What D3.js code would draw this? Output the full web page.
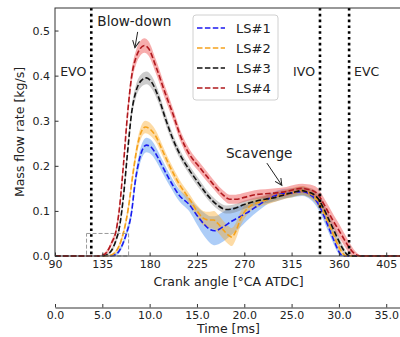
<!DOCTYPE html>
<html>
<head>
<meta charset="utf-8">
<script src="https://cdn.jsdelivr.net/npm/d3@7"></script>
<style>
  body { margin: 0; background: #fff; }
  svg { display: block; font-family: "DejaVu Sans", sans-serif; }
</style>
</head>
<body>
<svg id="chart"></svg>
<script>
// [crank angle, mass flow rate, band half-width]
const ls1 = [[90,0,0],[141,0,0],[145,0.001,0.002],[150,0.008,0.004],[155,0.03,0.006],[158,0.05,0.008],[163,0.1,0.011],[166,0.16,0.013],[170,0.212,0.015],[174,0.24,0.016],[177,0.246,0.016],[182,0.24,0.016],[187,0.222,0.015],[193,0.195,0.014],[200,0.165,0.013],[208,0.135,0.013],[218,0.113,0.015],[225,0.09,0.02],[232,0.07,0.026],[238,0.058,0.03],[242,0.056,0.032],[250,0.065,0.033],[258,0.077,0.03],[265,0.086,0.025],[272,0.095,0.018],[285,0.115,0.012],[294,0.128,0.01],[304,0.137,0.01],[315,0.14,0.01],[325,0.143,0.01],[330,0.14,0.01],[335,0.132,0.011],[340,0.117,0.012],[345,0.093,0.012],[350,0.065,0.012],[355,0.036,0.01],[359,0.014,0.007],[362,0.003,0.004],[365,0,0.001],[420,0,0]]
const ls2 = [[90,0,0],[138,0,0],[142,0.001,0.002],[148,0.01,0.004],[153,0.035,0.006],[156,0.06,0.008],[160,0.11,0.01],[164,0.18,0.012],[168,0.24,0.013],[172,0.275,0.014],[176,0.286,0.014],[181,0.28,0.014],[186,0.265,0.013],[192,0.235,0.012],[200,0.195,0.011],[208,0.16,0.011],[218,0.126,0.011],[225,0.1,0.013],[231,0.084,0.016],[236,0.08,0.018],[241,0.08,0.02],[245,0.072,0.02],[250,0.058,0.02],[255,0.046,0.02],[258,0.042,0.02],[262,0.055,0.018],[266,0.08,0.016],[274,0.108,0.013],[285,0.12,0.01],[294,0.126,0.01],[305,0.135,0.01],[315,0.14,0.01],[325,0.145,0.01],[330,0.142,0.01],[335,0.135,0.011],[340,0.122,0.012],[345,0.1,0.012],[350,0.074,0.012],[355,0.046,0.011],[360,0.02,0.008],[364,0.005,0.004],[367,0,0.001],[420,0,0]]
const ls3 = [[90,0,0],[133,0,0],[137,0.001,0.002],[143,0.01,0.004],[148,0.035,0.006],[151,0.06,0.008],[155,0.13,0.01],[159,0.23,0.012],[163,0.32,0.013],[167,0.365,0.014],[172,0.389,0.014],[177,0.395,0.014],[182,0.385,0.014],[188,0.355,0.013],[195,0.305,0.012],[202,0.26,0.011],[210,0.22,0.01],[218,0.19,0.01],[227,0.16,0.01],[235,0.135,0.009],[245,0.112,0.009],[253,0.103,0.009],[260,0.105,0.009],[270,0.114,0.009],[280,0.121,0.009],[290,0.126,0.009],[300,0.13,0.009],[310,0.137,0.009],[318,0.142,0.009],[325,0.145,0.009],[330,0.142,0.01],[335,0.138,0.011],[340,0.128,0.012],[345,0.108,0.013],[350,0.083,0.013],[355,0.058,0.012],[360,0.033,0.01],[364,0.015,0.007],[368,0.003,0.003],[371,0,0.001],[420,0,0]]
const ls4 = [[90,0,0],[130,0,0],[134,0.001,0.002],[139,0.008,0.004],[144,0.03,0.006],[148,0.055,0.008],[151,0.1,0.01],[155,0.2,0.012],[159,0.315,0.014],[163,0.4,0.015],[167,0.44,0.016],[171,0.46,0.016],[175,0.467,0.016],[179,0.46,0.016],[186,0.42,0.015],[195,0.36,0.014],[202,0.316,0.013],[210,0.262,0.012],[218,0.225,0.012],[227,0.198,0.011],[235,0.175,0.011],[242,0.155,0.01],[250,0.135,0.01],[256,0.126,0.01],[262,0.126,0.01],[270,0.13,0.01],[280,0.136,0.01],[290,0.138,0.01],[300,0.14,0.01],[310,0.143,0.01],[318,0.148,0.01],[325,0.15,0.01],[330,0.148,0.011],[335,0.145,0.012],[340,0.137,0.013],[345,0.118,0.014],[350,0.097,0.015],[355,0.076,0.015],[360,0.057,0.015],[365,0.037,0.014],[370,0.018,0.012],[374,0.007,0.008],[378,0.001,0.004],[382,0,0.001],[420,0,0]]

const names = ['LS#1', 'LS#2', 'LS#3', 'LS#4']
const series = [ls1, ls2, ls3, ls4]
const lineColors = ['#1a1af0', '#f5a21b', '#111111', '#b0181d']
const bandColors = ['rgba(60,135,235,0.42)', 'rgba(250,170,40,0.42)', 'rgba(120,120,120,0.38)', 'rgba(235,60,60,0.42)']

const angleTicks = [90, 135, 180, 225, 270, 315, 360, 405]
const flowTicks = [0, 0.1, 0.2, 0.3, 0.4, 0.5]
const timeTicks = [0, 5, 10, 15, 20, 25, 30, 35]

const events = [
  {name: 'EVO', angle: 124.5, side: 'left'},
  {name: 'IVO', angle: 342, side: 'left'},
  {name: 'EVC', angle: 369.7, side: 'right'},
]

const width = 400
const height = 337
const margin = {top: 8, left: 55, bottom: 81, right: -2}

const svg = d3.select('svg#chart')
  .attr('width', width)
  .attr('height', height)
  .attr('viewBox', `0 0 ${width} ${height}`)

svg.append('defs').append('marker')
    .attr('id', 'arrow')
    .attr('markerUnits', 'userSpaceOnUse')
    .attr('markerWidth', 10).attr('markerHeight', 10)
    .attr('refX', 7).attr('refY', 4)
    .attr('orient', 'auto')
  .append('path')
    .attr('d', 'M0,0.5 L7,4 L0,7.5')
    .attr('fill', 'none')
    .attr('stroke', '#222')
    .attr('stroke-width', 1)

const x = d3.scaleLinear()
    .domain([90, 420])
    .range([margin.left, width - margin.right])

const y = d3.scaleLinear()
    .domain([0, 0.55])
    .range([height - margin.bottom, margin.top])

// 1 ms = 9 degCA
const t = d3.scaleLinear()
    .domain([0, 330 / 9])
    .range([margin.left, width - margin.right])

const plot = svg.append('g')

// bands
series.forEach((rows, i) => {
  plot.append('path')
      .datum(rows)
      .attr('fill', bandColors[i])
      .attr('d', d3.area()
        .curve(d3.curveMonotoneX)
        .x(d => x(d[0]))
        .y0(d => y(Math.max(0, d[1] - d[2])))
        .y1(d => y(d[1] + d[2])))
})

// dashed mean lines
series.forEach((rows, i) => {
  plot.append('path')
      .datum(rows)
      .attr('fill', 'none')
      .attr('stroke', lineColors[i])
      .attr('stroke-width', 1.6)
      .attr('stroke-dasharray', '5.5,2.4')
      .attr('d', d3.line()
        .curve(d3.curveMonotoneX)
        .x(d => x(d[0]))
        .y(d => y(d[1])))
})

// zoom box
plot.append('rect')
    .attr('x', x(120))
    .attr('y', y(0.05))
    .attr('width', x(160) - x(120))
    .attr('height', y(0) - y(0.05))
    .attr('fill', 'none')
    .attr('stroke', '#999')
    .attr('stroke-width', 1)
    .attr('stroke-dasharray', '4,2')

// valve events
const ev = plot.selectAll('g.event')
  .data(events)
  .join('g')

ev.append('line')
    .attr('x1', d => x(d.angle)).attr('x2', d => x(d.angle))
    .attr('y1', y(0.55)).attr('y2', y(0))
    .attr('stroke', '#000')
    .attr('stroke-width', 2.6)
    .attr('stroke-dasharray', '2.6,3.2')

ev.append('text')
    .attr('x', d => x(d.angle) + (d.side == 'left' ? -5 : 5))
    .attr('y', y(0.41))
    .attr('dy', '0.35em')
    .attr('text-anchor', d => d.side == 'left' ? 'end' : 'start')
    .attr('font-size', 12.5)
    .attr('fill', '#222')
    .text(d => d.name)

// annotations
const notes = [
  {text: 'Blow-down', at: [165.5, 0.52], from: [168.6, 0.497], to: [166, 0.462]},
  {text: 'Scavenge', at: [284.2, 0.228], from: [291.5, 0.206], to: [305.7, 0.157]},
]
notes.forEach(n => {
  plot.append('text')
      .attr('x', x(n.at[0]))
      .attr('y', y(n.at[1]))
      .attr('dy', '0.35em')
      .attr('text-anchor', 'middle')
      .attr('font-size', 13.6)
      .attr('fill', '#222')
      .text(n.text)
  plot.append('line')
      .attr('x1', x(n.from[0])).attr('y1', y(n.from[1]))
      .attr('x2', x(n.to[0])).attr('y2', y(n.to[1]))
      .attr('stroke', '#222')
      .attr('stroke-width', 1)
      .attr('marker-end', 'url(#arrow)')
})

// frame
svg.append('rect')
    .attr('x', x(90))
    .attr('y', y(0.55))
    .attr('width', x(420) - x(90))
    .attr('height', y(0) - y(0.55))
    .attr('fill', 'none')
    .attr('stroke', '#333')
    .attr('stroke-width', 1)

const xAxis = g => g
    .attr('transform', `translate(0,${y(0)})`)
    .call(d3.axisBottom(x).tickValues(angleTicks).tickSize(-3.5).tickSizeOuter(0).tickPadding(4.5))
    .call(g => g.select('.domain').remove())

const yAxis = g => g
    .attr('transform', `translate(${x(90)},0)`)
    .call(d3.axisLeft(y).tickValues(flowTicks).tickFormat(d3.format('.1f')).tickSize(-3.5).tickPadding(5))
    .call(g => g.select('.domain').remove())

const tAxis = g => g
    .attr('transform', `translate(0,307.5)`)
    .call(d3.axisBottom(t).tickValues(timeTicks).tickFormat(d3.format('.1f')).tickSize(-3.5).tickSizeOuter(0).tickPadding(4))

for (const a of [xAxis, yAxis, tAxis]) {
  svg.append('g')
      .call(a)
      .call(g => g.selectAll('text').attr('font-size', 11).attr('fill', '#222').attr('font-family', '"DejaVu Sans", sans-serif'))
      .call(g => g.selectAll('line,path').attr('stroke', '#333'))
}

svg.append('text')
    .attr('x', (x(90) + x(420)) / 2)
    .attr('y', 282)
    .attr('dy', '0.35em')
    .attr('text-anchor', 'middle')
    .attr('font-size', 12.5)
    .attr('fill', '#222')
    .text('Crank angle [°CA ATDC]')

svg.append('text')
    .attr('x', (x(90) + x(420)) / 2)
    .attr('y', 328.5)
    .attr('dy', '0.35em')
    .attr('text-anchor', 'middle')
    .attr('font-size', 12.5)
    .attr('fill', '#222')
    .text('Time [ms]')

svg.append('text')
    .attr('transform', `translate(20,${(y(0) + y(0.55)) / 2}) rotate(-90)`)
    .attr('dy', '0.35em')
    .attr('text-anchor', 'middle')
    .attr('font-size', 12.5)
    .attr('fill', '#222')
    .text('Mass flow rate [kg/s]')

// legend
const legend = svg.append('g')
    .attr('transform', 'translate(193,15)')

legend.append('rect')
    .attr('width', 85)
    .attr('height', 85)
    .attr('rx', 3)
    .attr('fill', 'rgba(255,255,255,0.85)')
    .attr('stroke', '#d0d0d0')

const item = legend.selectAll('g.item')
  .data(names)
  .join('g')
    .attr('transform', (d, i) => `translate(0,${13 + i * 20})`)

item.append('line')
    .attr('x1', 4).attr('x2', 32)
    .attr('stroke', (d, i) => lineColors[i])
    .attr('stroke-width', 1.6)
    .attr('stroke-dasharray', '5.5,2.4')

item.append('text')
    .attr('x', 43)
    .attr('dy', '0.35em')
    .attr('font-size', 13)
    .attr('fill', '#222')
    .text(d => d)
</script>
</body>
</html>
